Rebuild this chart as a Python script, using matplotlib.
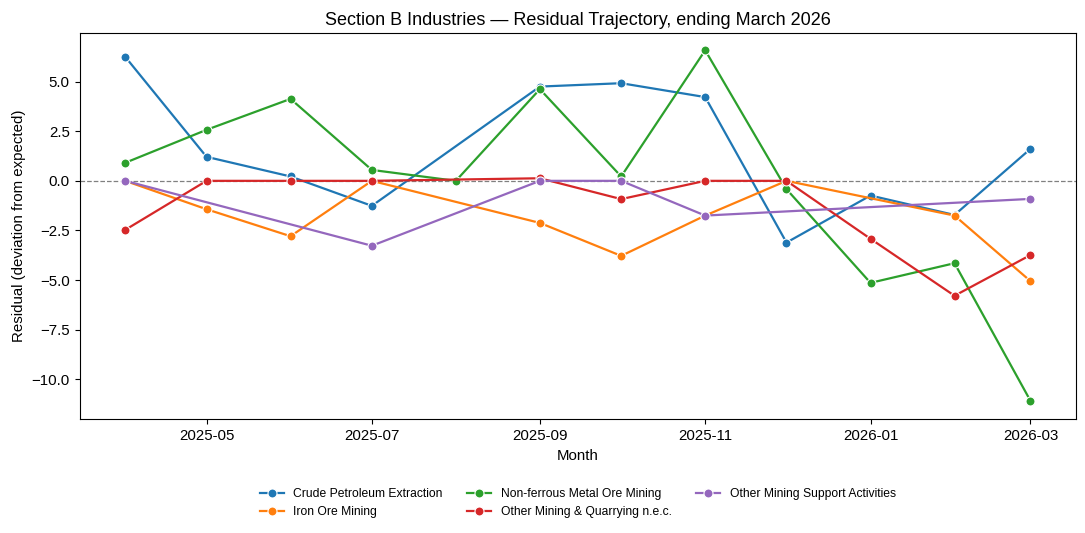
import matplotlib
matplotlib.use("Agg")
import matplotlib.pyplot as plt
import matplotlib.dates as mdates
import numpy as np
import pandas as pd

plt.rcParams["font.family"] = ["Liberation Sans", "DejaVu Sans"]

months = pd.date_range("2025-04-01", "2026-03-01", freq="MS")

series_names = [
    "Crude Petroleum Extraction",
    "Iron Ore Mining",
    "Non-ferrous Metal Ore Mining",
    "Other Mining & Quarrying n.e.c.",
    "Other Mining Support Activities",
]
nan = np.nan
crude = [6.25, 1.21, 0.22, -1.26, nan, 4.75, 4.92, 4.22, -3.11, -0.74, -1.72, 1.61]
iron = [0.0, -1.43, -2.79, 0.0, nan, -2.12, -3.78, -1.75, 0.0, nan, -1.75, -5.05]
nonferrous = [0.91, 2.57, 4.13, 0.55, 0.0, 4.62, 0.22, 6.58, -0.42, -5.14, -4.15, -11.08]
other_quarry = [-2.47, 0.0, 0.0, 0.0, nan, 0.13, -0.92, 0.0, 0.0, -2.92, -5.79, -3.74]
support = [0.0, nan, nan, -3.27, nan, 0.0, 0.0, -1.75, nan, nan, nan, -0.91]

all_series = [crude, iron, nonferrous, other_quarry, support]
colors = ["#1f77b4", "#ff7f0e", "#2ca02c", "#d62728", "#9467bd"]

fig = plt.figure(figsize=(10.85, 5.33), dpi=100)
ax = fig.add_axes([0.0737, 0.2139, 0.9177, 0.7242])

ax.axhline(0, color="grey", linestyle="--", linewidth=0.9, zorder=1)

for name, vals, c in zip(series_names, all_series, colors):
    v = np.array(vals, dtype=float)
    ok = ~np.isnan(v)
    ax.plot(months[ok], v[ok], color=c, linewidth=1.6, marker="o",
            markersize=6.5, markeredgecolor="white", markeredgewidth=0.8,
            label=name, zorder=2)

ax.set_ylim(-12.0, 7.45)
ax.xaxis.set_major_locator(mdates.MonthLocator(bymonth=[1, 3, 5, 7, 9, 11]))
ax.xaxis.set_major_formatter(mdates.DateFormatter("%Y-%m"))
ax.tick_params(labelsize=10.8, length=3.8)

ax.set_title("Section B Industries \u2014 Residual Trajectory, ending March 2026", fontsize=13)
ax.set_xlabel("Month", fontsize=10.8)
ax.set_ylabel("Residual (deviation from expected)", fontsize=10.8)

ax.legend(loc="upper center", bbox_to_anchor=(0.5, -0.15), ncol=3,
          frameon=False, fontsize=8.7, columnspacing=2.0)

fig.savefig("out.png", dpi=100)
